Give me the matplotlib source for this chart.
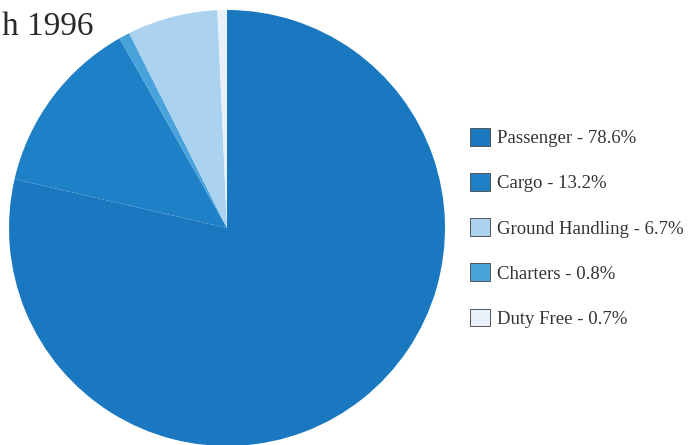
import matplotlib
matplotlib.use("Agg")
import matplotlib.pyplot as plt
from matplotlib.patches import Patch

categories = ["Passenger", "Cargo", "Ground Handling", "Charters", "Duty Free"]
shares = [78.6, 13.2, 6.7, 0.8, 0.7]
colors = ["#1a78c0", "#1e80c6", "#abd2ee", "#4aa2da", "#e8f1f9"]
pie_order = [0, 1, 3, 2, 4]  # clockwise from top
title_text = "h 1996"

fig = plt.figure(figsize=(6.95, 4.45), dpi=100)
W, H = 695, 445
cx, cy, r = 227, 228, 218
ax = fig.add_axes([(cx - r) / W, (H - cy - r) / H, 2 * r / W, 2 * r / H])
ax.pie([shares[i] for i in pie_order],
       colors=[colors[i] for i in pie_order],
       startangle=90, counterclock=False, radius=1,
       wedgeprops=dict(linewidth=0))
ax.set_xlim(-1, 1)
ax.set_ylim(-1, 1)
ax.set_aspect("equal")
ax.axis("off")

fig.text(2 / W, 1 - 27 / H, title_text, fontsize=24, family="Liberation Serif",
         color="#2a2a2a", va="center", ha="left")

handles = [Patch(facecolor=c, edgecolor="#555555", linewidth=0.7) for c in colors]
labels = [f"{n} - {s}%" for n, s in zip(categories, shares)]
fig.legend(handles, labels, loc="upper left",
           bbox_to_anchor=(470 / W, 1 - 128 / H),
           frameon=False, prop=dict(family="Liberation Serif", size=13.5),
           labelcolor="#333333",
           handlelength=1.08, handleheight=1.08, handletextpad=0.38,
           labelspacing=1.38, borderpad=0, borderaxespad=0)

fig.savefig("out.png", dpi=100)
